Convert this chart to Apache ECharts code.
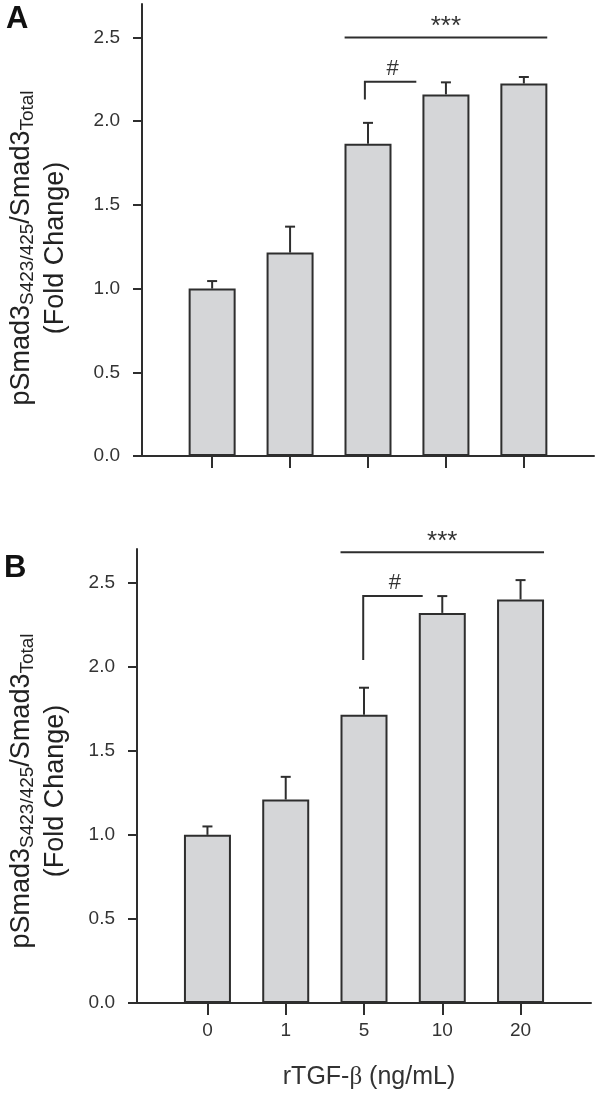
<!DOCTYPE html>
<html><head><meta charset="utf-8">
<script src="https://cdn.jsdelivr.net/npm/echarts@6/dist/echarts.min.js"></script>
<style>html,body{margin:0;padding:0;background:#fff}#c{width:595px;height:1093px}</style>
</head><body><div id="c"></div>
<script>
// ---- data ----
const categories = ['0', '1', '5', '10', '20'];
const meanA = [1.00, 1.215, 1.865, 2.16, 2.225];
const errA  = [0.045, 0.155, 0.125, 0.072, 0.039];
const meanB = [1.00, 1.21, 1.715, 2.32, 2.40];
const errB  = [0.05, 0.135, 0.16, 0.10, 0.115];
const yTicks = [0, 0.5, 1.0, 1.5, 2.0, 2.5];
// significance line "***": [xStart, xEnd, y]
const starsA = [1.7, 4.3, 2.5];
const starsB = [1.7, 4.3, 2.68];
// "#" bracket: [x, yLow, yHigh, xEnd]
const hashA = [1.96, 2.13, 2.235, 2.62];
const hashB = [1.99, 2.04, 2.42, 2.75];

const FONT = '"Liberation Sans", Arial, Helvetica, sans-serif';
const DARK = '#2e2e2e';
const xIdx = categories.map((c, i) => i);

const chart = echarts.init(document.getElementById('c'), null, {renderer: 'canvas'});

function xAxisDef(gi, showLabels, withName) {
  const ax = {
    type: 'value', gridIndex: gi, min: -0.9, max: 4.9,
    splitLine: {show: false},
    axisLine: {show: true, onZero: false, lineStyle: {color: DARK, width: 2}},
    axisTick: {show: true, customValues: xIdx, length: 12, lineStyle: {color: DARK, width: 2}},
    axisLabel: {show: showLabels, customValues: xIdx, formatter: v => categories[Math.round(v)],
      fontSize: 19, color: '#333', margin: 18, fontFamily: FONT}
  };
  if (withName) {
    ax.name = 'rTGF-{b|β} (ng/mL)';
    ax.nameLocation = 'middle';
    ax.nameGap = 62;
    ax.nameTextStyle = {fontSize: 25, color: '#333', fontFamily: FONT, padding: [0, 0, 0, 10],
      rich: {b: {fontSize: 25, fontFamily: '"Liberation Serif", "DejaVu Serif", serif', color: '#333'}}};
  }
  return ax;
}
function yAxisDef(gi) {
  return {
    type: 'value', gridIndex: gi, min: 0, max: 2.7,
    splitLine: {show: false},
    axisLine: {show: true, onZero: false, lineStyle: {color: DARK, width: 2}},
    axisTick: {show: true, customValues: yTicks, length: 9, lineStyle: {color: DARK, width: 2}},
    axisLabel: {customValues: yTicks, formatter: v => v.toFixed(1), fontSize: 19, color: '#333',
      margin: 22, fontFamily: FONT}
  };
}

function barSeries(gi, mean) {
  return {
    type: 'bar', xAxisIndex: gi, yAxisIndex: gi, barWidth: 47,
    data: mean.map((v, i) => [xIdx[i], v]),
    itemStyle: {color: '#d5d6d8', borderColor: DARK, borderWidth: 2},
    z: 2
  };
}
function errSeries(gi, mean, err) {
  return {
    type: 'custom', xAxisIndex: gi, yAxisIndex: gi, z: 3,
    encode: {x: 0, y: 1},
    data: mean.map((v, i) => [xIdx[i], v, err[i]]),
    renderItem: (params, api) => {
      const x = api.value(0), m = api.value(1), e = api.value(2);
      const b = api.coord([x, m]), t = api.coord([x, m + e]);
      return {type: 'group', children: [
        {type: 'line', shape: {x1: b[0], y1: b[1], x2: t[0], y2: t[1]}, style: {stroke: DARK, lineWidth: 2}},
        {type: 'line', shape: {x1: t[0] - 5, y1: t[1], x2: t[0] + 5, y2: t[1]}, style: {stroke: DARK, lineWidth: 2}}
      ]};
    }
  };
}
function starsSeries(gi, s) {
  return {
    type: 'custom', xAxisIndex: gi, yAxisIndex: gi, z: 4,
    encode: {x: [0, 1], y: 2},
    data: [s],
    renderItem: (params, api) => {
      const p0 = api.coord([api.value(0), api.value(2)]);
      const p1 = api.coord([api.value(1), api.value(2)]);
      return {type: 'group', children: [
        {type: 'line', shape: {x1: p0[0], y1: p0[1], x2: p1[0], y2: p1[1]}, style: {stroke: DARK, lineWidth: 2}},
        {type: 'text', x: (p0[0] + p1[0]) / 2, y: p0[1] - 11,
          style: {text: '***', fill: '#333', align: 'center', verticalAlign: 'middle', font: '26px ' + FONT}}
      ]};
    }
  };
}
function hashSeries(gi, h) {
  return {
    type: 'custom', xAxisIndex: gi, yAxisIndex: gi, z: 4,
    encode: {x: [0, 3], y: [1, 2]},
    data: [h],
    renderItem: (params, api) => {
      const a = api.coord([api.value(0), api.value(1)]);
      const b = api.coord([api.value(0), api.value(2)]);
      const c = api.coord([api.value(3), api.value(2)]);
      return {type: 'group', children: [
        {type: 'polyline', shape: {points: [a, b, c]}, style: {stroke: DARK, lineWidth: 2, fill: null}},
        {type: 'text', x: (b[0] + c[0]) / 2 + 2, y: b[1] - 13,
          style: {text: '#', fill: '#333', align: 'center', verticalAlign: 'middle', font: '22px ' + FONT}}
      ]};
    }
  };
}

function yTitle(cy) {
  return [
    {type: 'text', x: 22, y: cy, rotation: Math.PI / 2,
      style: {
        text: '{m|pSmad3}{s|S423/425}{m|/Smad3}{s|Total}',
        align: 'center', verticalAlign: 'middle',
        rich: {
          m: {fontSize: 27, fontFamily: FONT, fill: '#222', lineHeight: 30},
          s: {fontSize: 19, fontFamily: FONT, fill: '#222', lineHeight: 19, padding: [17, 0, 0, 0], verticalAlign: 'bottom'}
        }
      }},
    {type: 'text', x: 56, y: cy, rotation: Math.PI / 2,
      style: {text: '(Fold Change)', align: 'center', verticalAlign: 'middle', fill: '#222', font: '27px ' + FONT}}
  ];
}

const option = {
  animation: false,
  backgroundColor: '#fff',
  grid: [
    {left: 142, top: 4, width: 452, height: 452},
    {left: 137, top: 549, width: 454, height: 454}
  ],
  xAxis: [xAxisDef(0, false, false), xAxisDef(1, true, true)],
  yAxis: [yAxisDef(0), yAxisDef(1)],
  series: [
    barSeries(0, meanA), errSeries(0, meanA, errA), starsSeries(0, starsA), hashSeries(0, hashA),
    barSeries(1, meanB), errSeries(1, meanB, errB), starsSeries(1, starsB), hashSeries(1, hashB)
  ],
  graphic: [
    {type: 'text', x: 6, y: 19, style: {text: 'A', font: 'bold 31px ' + FONT, fill: '#111', verticalAlign: 'middle'}},
    {type: 'text', x: 4, y: 568, style: {text: 'B', font: 'bold 31px ' + FONT, fill: '#111', verticalAlign: 'middle'}},
    ...yTitle(248),
    ...yTitle(791)
  ]
};
chart.setOption(option);
</script>
</body></html>
